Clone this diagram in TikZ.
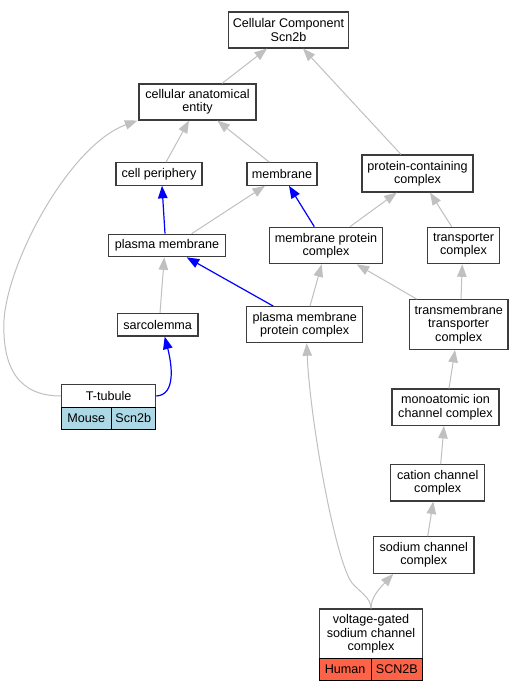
\documentclass[tikz,border=0pt]{standalone}
\usepackage{fontspec}
\setmainfont{Liberation Sans}
\usetikzlibrary{arrows.meta}
\definecolor{edgegray}{RGB}{192,192,192}
\definecolor{boxline}{RGB}{60,60,60}
\definecolor{mouseblue}{RGB}{173,216,230}
\definecolor{humanred}{RGB}{255,99,71}
\begin{document}
\begin{tikzpicture}[x=1pt,y=-1pt,
  font=\fontsize{12.6}{13.4}\selectfont,
  box/.style={draw=boxline, line width=1.15pt, fill=white, align=center, inner sep=0pt},
  cell/.style={draw=black, line width=0.9pt, align=center, inner sep=0pt},
  gedge/.style={draw=edgegray, line width=1pt, -{Triangle[length=12.5pt,width=9.5pt]}},
  bedge/.style={draw=blue, line width=1.2pt, -{Triangle[length=12.5pt,width=9.5pt]}}]
\path[use as bounding box, fill=white] (0,0) rectangle (528,691);
% nodes
\node[box, minimum width=120pt, minimum height=36pt] (cc) at (288.5,30) {Cellular Component\\Scn2b};
\node[box, minimum width=117pt, minimum height=36pt] (cae) at (197.5,102) {cellular anatomical\\entity};
\node[box, minimum width=86pt, minimum height=22.5pt] (cp) at (159,174) {cell periphery};
\node[box, minimum width=70pt, minimum height=22.5pt] (mem) at (282,174) {membrane};
\node[box, minimum width=111pt, minimum height=37pt] (pcc) at (417.5,173.5) {protein-containing\\complex};
\node[box, minimum width=117pt, minimum height=22.5pt] (pm) at (167,245.5) {plasma membrane};
\node[box, minimum width=113pt, minimum height=36.5pt] (mpc) at (326,245.5) {membrane protein\\complex};
\node[box, minimum width=71.5pt, minimum height=36.5pt] (tc) at (463.5,245.5) {transporter\\complex};
\node[box, minimum width=80.7pt, minimum height=22.7pt] (sar) at (157.7,324.7) {sarcolemma};
\node[box, minimum width=116pt, minimum height=36pt] (pmpc) at (304.7,324.7) {plasma membrane\\protein complex};
\node[box, minimum width=98.7pt, minimum height=49.7pt] (tmtc) at (458.7,324.5) {transmembrane\\transporter\\complex};
\node[box, minimum width=94pt, minimum height=22.6pt] (tt) at (108.7,396) {T-tubule};
\node[cell, fill=mouseblue, minimum width=49.3pt, minimum height=22pt] (ttm) at (86.35,418.3) {Mouse};
\node[cell, fill=mouseblue, minimum width=44.7pt, minimum height=22pt] (tts) at (133.35,418.3) {Scn2b};
\node[box, minimum width=107pt, minimum height=36.3pt] (mic) at (445.5,407.2) {monoatomic ion\\channel complex};
\node[box, minimum width=94pt, minimum height=36.3pt] (cat) at (437.7,482.8) {cation channel\\complex};
\node[box, minimum width=100.3pt, minimum height=36.6pt] (sod) at (423.8,555) {sodium channel\\complex};
\node[box, minimum width=103.4pt, minimum height=49.7pt] (vg) at (371,633.8) {voltage-gated\\sodium channel\\complex};
\node[cell, fill=humanred, minimum width=51.7pt, minimum height=21.3pt] (vgh) at (345.15,669.3) {Human};
\node[cell, fill=humanred, minimum width=51.7pt, minimum height=21.3pt] (vgs) at (396.85,669.3) {SCN2B};
% edges
\draw[gedge] ([xshift=24.5pt]cae.north) -- ([xshift=-21.5pt]cc.south);
\draw[gedge] ([xshift=-16.5pt]pcc.north) -- ([xshift=14.5pt]cc.south);
\draw[gedge] ([xshift=7pt]cp.north) -- ([xshift=-8.5pt]cae.south);
\draw[gedge] ([xshift=-12.7pt]mem.north) -- ([xshift=19.8pt]cae.south);
\draw[gedge] (tt.west) .. controls (20,396) and (2,370) .. (4,320) .. controls (8,260) and (70,145) .. ([xshift=-1pt]cae.south west);
\draw[bedge] ([xshift=-2pt]pm.north) -- ([xshift=3pt]cp.south);
\draw[gedge] ([xshift=24.7pt]pm.north) -- ([xshift=-17pt]mem.south);
\draw[bedge] ([xshift=-11.7pt]mpc.north) -- ([xshift=7pt]mem.south);
\draw[gedge] ([xshift=24pt]mpc.north) -- ([xshift=-20.8pt]pcc.south);
\draw[gedge] ([xshift=-11.8pt]tc.north) -- ([xshift=12.5pt]pcc.south);
\draw[gedge] ([xshift=2.3pt]sar.north) -- ([xshift=-2.7pt]pm.south);
\draw[bedge] ([xshift=-31.4pt]pmpc.north) -- ([xshift=19.7pt]pm.south);
\draw[gedge] ([xshift=5.3pt]pmpc.north) -- ([xshift=-4.3pt]mpc.south);
\draw[gedge] ([xshift=-42pt]tmtc.north) -- ([xshift=30.7pt]mpc.south);
\draw[gedge] ([xshift=2.3pt]tmtc.north) -- ([xshift=-1.2pt]tc.south);
\draw[bedge] (tt.east) .. controls (176,395) and (172,365) .. ([xshift=7pt]sar.south);
\draw[gedge] ([xshift=3.5pt]mic.north) -- ([xshift=-3.7pt]tmtc.south);
\draw[gedge] ([xshift=3pt]cat.north) -- ([xshift=-1.5pt]mic.south);
\draw[gedge] ([xshift=3.9pt]sod.north) -- ([xshift=-4.4pt]cat.south);
\draw[gedge] (vg.north) .. controls (371,598) and (378,590) .. ([xshift=-30.5pt]sod.south);
\draw[gedge] (vg.north) .. controls (371,598) and (360,592) .. (352,583) .. controls (335,560) and (310,420) .. ([xshift=2pt]pmpc.south);
\end{tikzpicture}
\end{document}
